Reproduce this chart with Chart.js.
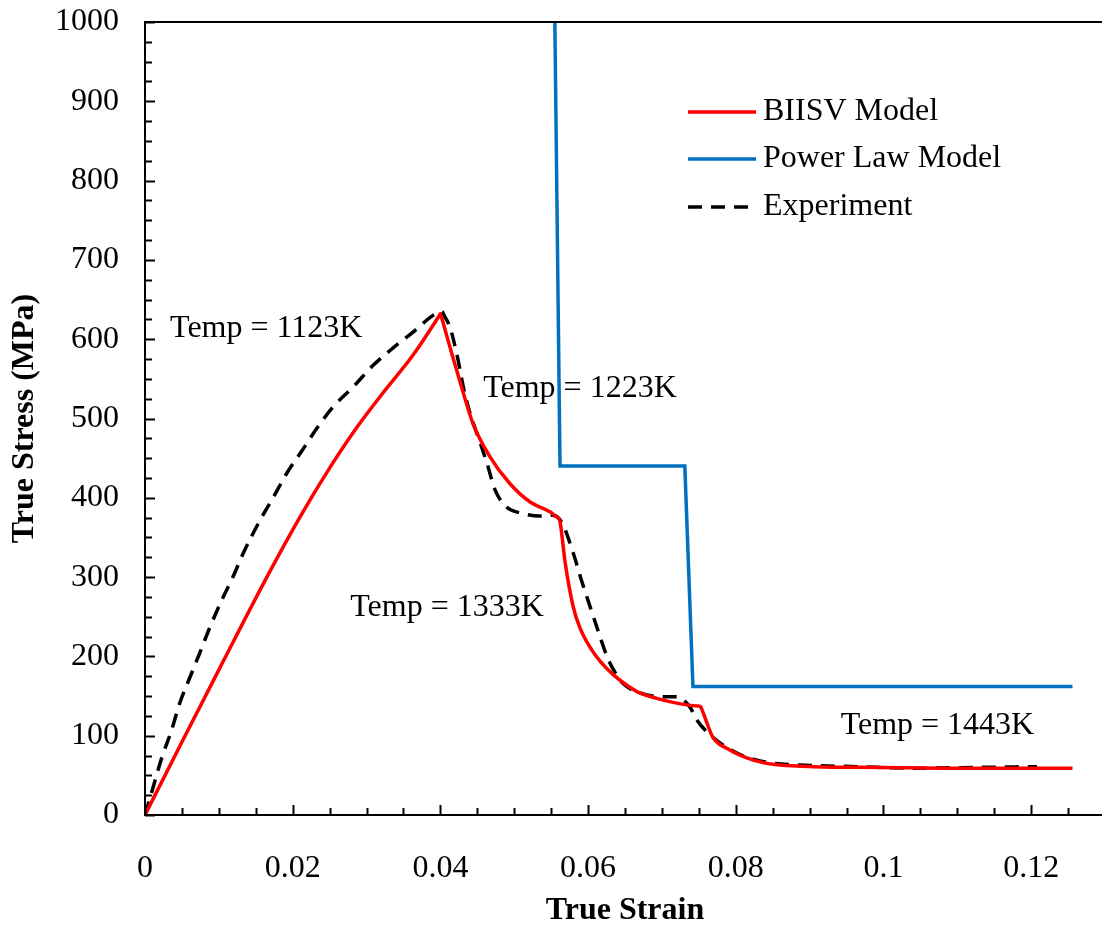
<!DOCTYPE html>
<html>
<head>
<meta charset="utf-8">
<script src="https://cdn.jsdelivr.net/npm/chart.js@4.4.1/dist/chart.umd.min.js"></script>
<style>
  html, body { margin: 0; padding: 0; background: #fff; overflow: hidden; }
</style>
</head>
<body>
<canvas id="myChart" width="1110" height="930"></canvas>
<script>
// BIISV model
let strainBIISV = [0, 0.005, 0.01, 0.0165, 0.021, 0.0251, 0.0287, 0.0322, 0.0363, 0.0398, 0.04, 0.0402, 0.0413, 0.0427, 0.0444, 0.0467, 0.0494, 0.0521, 0.0549, 0.0557, 0.0559, 0.0562, 0.0569, 0.058, 0.0589, 0.0603, 0.0617, 0.0634, 0.0652, 0.067, 0.0693, 0.0715, 0.0748, 0.0752, 0.0755, 0.0761, 0.0769, 0.0792, 0.0815, 0.0837, 0.086, 0.0905, 0.1, 0.11, 0.1256];
let stressBIISV = [0, 92, 183, 300, 376, 439, 489, 532, 580, 629, 632, 626, 590, 545, 494, 452, 418, 395, 382, 376, 375, 370, 318, 262, 236, 211, 193, 177, 164, 154, 147, 142, 137.5, 137, 131, 116, 98, 82, 72, 66, 63, 61, 60, 59, 59];

// power law model
let strainPL = [0.0555, 0.0562, 0.0731, 0.0742, 0.1256];
let stressPL = [1000, 440, 440, 162, 162];

// experiment
let strainExp = [0, 0.0011, 0.0023, 0.0036, 0.0047, 0.0061, 0.0074, 0.0088, 0.0104, 0.0119, 0.0133, 0.0156, 0.0174, 0.0192, 0.0213, 0.0233, 0.0255, 0.0282, 0.0309, 0.0336, 0.0363, 0.039, 0.0399, 0.0402, 0.0405, 0.0413, 0.0423, 0.0431, 0.044, 0.0451, 0.0463, 0.0474, 0.049, 0.0508, 0.0535, 0.0553, 0.0565, 0.058, 0.0591, 0.0603, 0.0614, 0.0626, 0.0637, 0.0647, 0.067, 0.0702, 0.072, 0.0738, 0.0747, 0.0769, 0.079, 0.0806, 0.0845, 0.0887, 0.0965, 0.1045, 0.1125, 0.1208];
let stressExp = [0, 35, 73, 107, 141, 174, 204, 237, 271, 300, 330, 372, 401, 431, 460, 488, 515, 540, 567, 589, 609, 630, 634, 635, 630, 615, 578, 540, 507, 477, 444, 410, 388, 381, 377, 378, 368, 330, 296, 262, 231, 199, 179, 166, 154, 149, 149, 136, 120, 98, 84, 76, 66, 63, 61, 59, 60, 61];

let xTicks = [0, 0.02, 0.04, 0.06, 0.08, 0.1, 0.12];
let tempLabels = ['Temp = 1123K', 'Temp = 1223K', 'Temp = 1333K', 'Temp = 1443K'];
let tempX = [0.0034, 0.0458, 0.0278, 0.0942];
let tempY = [614, 538, 261, 113];

const FONT = "'Liberation Serif', 'Times New Roman', serif";

function pts(xs, ys) {
    return xs.map((x, i) => ({ x: x, y: ys[i] }));
}

function noPad(s) {
    s.paddingTop = 0;
    s.paddingBottom = 0;
    s.paddingLeft = 0;
    s.paddingRight = 0;
}

// inward tick marks, top/right frame, legend, temperature notes
const extras = {
    id: 'extras',
    beforeDatasetsDraw(chart) {
        const ctx = chart.ctx;
        const xs = chart.scales.x, ys = chart.scales.y;
        ctx.save();
        ctx.fillStyle = '#000';
        ctx.font = '32px ' + FONT;
        ctx.textBaseline = 'middle';
        ctx.textAlign = 'left';
        tempLabels.forEach((t, i) => {
            ctx.fillText(t, xs.getPixelForValue(tempX[i]), ys.getPixelForValue(tempY[i]));
        });
        ctx.restore();
    },
    afterDraw(chart) {
        const ctx = chart.ctx;
        const a = chart.chartArea;
        const xs = chart.scales.x, ys = chart.scales.y;
        ctx.save();
        ctx.strokeStyle = '#000';
        ctx.lineWidth = 2;
        ctx.beginPath();
        ctx.moveTo(a.left, a.top);
        ctx.lineTo(a.right, a.top);
        ctx.lineTo(a.right, a.bottom);
        ctx.stroke();
        // y ticks every 25
        for (let v = 0; v <= 1000; v += 25) {
            const y = Math.round(ys.getPixelForValue(v)) + 0.5;
            const len = v % 100 === 0 ? 10 : 7;
            ctx.beginPath();
            ctx.moveTo(a.left, y);
            ctx.lineTo(a.left + len, y);
            ctx.stroke();
        }
        // x ticks every 0.005
        for (let k = 0; k <= 26; k++) {
            const x = Math.round(xs.getPixelForValue(k * 0.005)) + 0.5;
            const len = k % 4 === 0 ? 10 : 7;
            ctx.beginPath();
            ctx.moveTo(x, a.bottom);
            ctx.lineTo(x, a.bottom - len);
            ctx.stroke();
        }
        // legend
        const items = chart.data.datasets;
        const rowY = [112, 159, 207];
        ctx.font = '32px ' + FONT;
        ctx.textBaseline = 'middle';
        ctx.fillStyle = '#000';
        items.forEach((d, i) => {
            ctx.strokeStyle = d.borderColor;
            ctx.lineWidth = d.borderWidth;
            ctx.setLineDash(d.borderDash || []);
            ctx.beginPath();
            ctx.moveTo(688, rowY[i]);
            ctx.lineTo(756, rowY[i]);
            ctx.stroke();
            ctx.setLineDash([]);
            ctx.fillText(d.label, 763, rowY[i]);
        });
        ctx.restore();
    }
};

const ctx = document.getElementById('myChart').getContext('2d');
const myChart = new Chart(ctx, {
    type: 'line',
    data: {
        datasets: [{
            label: 'BIISV Model',
            data: pts(strainBIISV, stressBIISV),
            borderColor: '#FF0000',
            borderWidth: 3.5,
            cubicInterpolationMode: 'monotone',
            pointRadius: 0
        }, {
            label: 'Power Law Model',
            data: pts(strainPL, stressPL),
            borderColor: '#0070C0',
            borderWidth: 3.5,
            tension: 0,
            pointRadius: 0
        }, {
            label: 'Experiment',
            data: pts(strainExp, stressExp),
            borderColor: '#000000',
            borderWidth: 3.5,
            borderDash: [14, 9],
            cubicInterpolationMode: 'monotone',
            pointRadius: 0
        }]
    },
    options: {
        responsive: false,
        animation: false,
        layout: { padding: { left: 0, top: 22, right: 5, bottom: 0 } },
        plugins: {
            legend: { display: false },
            tooltip: { enabled: false }
        },
        scales: {
            x: {
                type: 'linear',
                min: 0,
                max: 0.13,
                afterFit: (s) => { s.height = 115; noPad(s); },
                afterBuildTicks: (s) => { s.ticks = xTicks.map(v => ({ value: v })); },
                grid: { display: false, drawTicks: false },
                border: { display: true, color: '#000', width: 2 },
                ticks: {
                    padding: 34,
                    color: '#000',
                    font: { family: FONT, size: 32 },
                    callback: (v) => String(Number(v.toFixed(3)))
                },
                title: {
                    display: true,
                    text: 'True Strain',
                    color: '#000',
                    padding: { top: 0, bottom: 0 },
                    font: { family: FONT, size: 32, weight: 'bold' }
                }
            },
            y: {
                min: 0,
                max: 1000,
                afterFit: (s) => { s.width = 145; noPad(s); },
                grid: { display: false, drawTicks: false },
                border: { display: true, color: '#000', width: 2 },
                ticks: {
                    stepSize: 100,
                    padding: 26,
                    color: '#000',
                    font: { family: FONT, size: 32 },
                    callback: (v) => String(v)
                },
                title: {
                    display: true,
                    text: 'True Stress (MPa)',
                    color: '#000',
                    padding: { top: 6, bottom: 0 },
                    font: { family: FONT, size: 32, weight: 'bold' }
                }
            }
        }
    },
    plugins: [extras]
});
</script>
</body>
</html>
